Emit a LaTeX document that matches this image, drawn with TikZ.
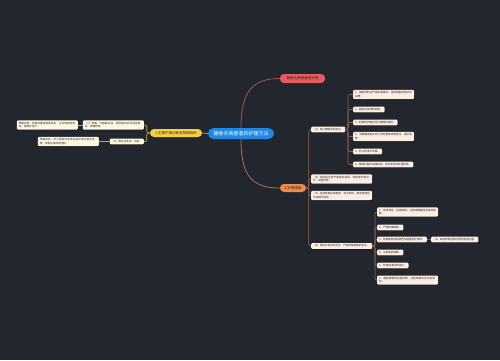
\documentclass[tikz,border=0pt]{standalone}
\usepackage{fontspec}
\setmainfont{Noto Sans CJK SC}
\XeTeXlinebreaklocale "zh"
\XeTeXlinebreakskip=0pt plus 0.5pt
\usetikzlibrary{shadows}
\definecolor{bgc}{HTML}{22262F}
\definecolor{blueC}{HTML}{1E88E5}
\definecolor{redN}{HTML}{E85A5C}
\definecolor{yellowN}{HTML}{F4D03F}
\definecolor{orangeN}{HTML}{EE8B48}
\definecolor{lcard}{HTML}{FFF8E1}
\definecolor{rcard}{HTML}{FDEEE4}
\definecolor{lline}{HTML}{C9A640}
\definecolor{rline}{HTML}{8C5F4E}
\definecolor{redline}{HTML}{A8505A}
\definecolor{orline}{HTML}{B5703F}
\tikzset{
  card/.style={fill=#1, rounded corners=1pt, inner xsep=2pt, inner ysep=1.6pt,
    font=\fontsize{2.6pt}{3.4pt}\selectfont, text=black!85, align=left,
    drop shadow={shadow xshift=0.4pt, shadow yshift=-0.5pt, opacity=0.6, fill=black}},
  wcard/.style={card=#1, text width=57pt},
  pill/.style={fill=#1, rounded corners=4pt, inner xsep=2pt, inner ysep=0pt,
    minimum height=8pt, font=\fontsize{3.5pt}{4pt}\selectfont, text=black!85},
  lconn/.style={draw=lline, line width=0.7pt, rounded corners=2pt},
  rconn/.style={draw=rline, line width=0.7pt, rounded corners=2pt},
}
\begin{document}
\begin{tikzpicture}[x=1pt, y=-1pt]
\fill[bgc] (0,0) rectangle (500,360);
\useasboundingbox (0,0) rectangle (500,360);

% main nodes
\node[fill=blueC, rounded corners=5.5pt, minimum width=66pt, minimum height=11pt, inner sep=0pt,
  font=\fontsize{5pt}{6pt}\selectfont, text=white] (central) at (241,133.5) {静脉炎病患者的护理方法};
\node[pill=redN, minimum width=45pt, minimum height=9pt] (red) at (302.5,78.5) {静脉炎病患者的护理};
\node[pill=orangeN, minimum width=26pt] (orange) at (293,188) {2.护理措施};
\node[pill=yellowN, minimum width=52pt] (yellow) at (176,133) {1.主要护理诊断及预期目标};

% left cards
\node[wcard=lcard, anchor=east] (a1) at (144,125) {（1）疼痛：与静脉炎症、局部组织炎性浸润有关，疼痛明显。};
\node[wcard=lcard, anchor=east] (b1) at (78,125) {预期目标：患者疼痛减轻或消失，主诉舒适度增加，能配合治疗。};
\node[card=lcard, anchor=east] (a2) at (144,141.5) {（2）潜在并发症：出血。};
\node[wcard=lcard, anchor=east] (b2) at (99,141.5) {预期目标：护士能及时发现出血并配合医生处理，患者出血得到控制。};

% right cards level 1
\node[card=rcard, anchor=west] (c1) at (311,129.5) {（1）减少静脉炎的发生。};
\node[wcard=rcard, anchor=west] (c2) at (311,179) {（2）协助医生给予患者抗感染、局部理疗等治疗，观察疗效。};
\node[wcard=rcard, anchor=west] (c3) at (311,195.5) {（3）指导患者抬高患肢，适当制动，避免患肢受压及剧烈活动。};
\node[wcard=rcard, anchor=west] (c4) at (311,246) {（4）预防并发症的发生，严密观察病情的变化。};

% children of c1
\node[wcard=rcard, anchor=west] (g1) at (353,94.5) {1、静脉穿刺应严格无菌操作，选择粗直弹性好的血管。};
\node[card=rcard, anchor=west] (g2) at (353,109.5) {2、避免反复穿刺血管。};
\node[card=rcard, anchor=west] (g3) at (353,122.5) {3、刺激性药物应充分稀释后使用。};
\node[wcard=rcard, anchor=west] (g4) at (353,136.5) {4、长期输液者应有计划地更换穿刺部位，保护血管。};
\node[card=rcard, anchor=west] (g5) at (353,151.5) {5、防止药液外渗漏。};
\node[card=rcard, anchor=west] (g6) at (353,164.5) {6、输液过程中加强巡视，及时发现并处理异常。};

% children of c4
\node[wcard=rcard, anchor=west] (h1) at (377,212) {1、卧床休息，抬高患肢，以促进静脉回流减轻肿胀。};
\node[card=rcard, anchor=west] (h2) at (377,227.5) {2、严禁按摩患肢。};
\node[card=rcard, anchor=west] (h3) at (377,239.5) {3、观察患肢皮肤颜色及温度变化情况。};
\node[card=rcard, anchor=west] (h3a) at (431,239.5) {（1）如有异常应及时报告医生处理。};
\node[card=rcard, anchor=west] (h4) at (377,252.5) {4、注意患肢保暖。};
\node[card=rcard, anchor=west] (h5) at (377,265.5) {5、饮食宜清淡易消化。};
\node[wcard=rcard, anchor=west] (h6) at (377,280) {6、遵医嘱使用抗凝药物，注意观察有无出血倾向。};

% connectors
\draw[lconn] (central.west) -- (yellow.east);
\draw[draw=redline, line width=0.8pt] (central.north) .. controls (241,92) and (252,78.5) .. (red.west);
\draw[draw=orline, line width=0.8pt] (central.south) .. controls (241,176) and (252,188) .. (orange.west);
\foreach \n in {a1,a2} \draw[lconn] (yellow.west) -- ++(-3,0) |- (\n.east);
\draw[lconn] (a1.west) -- (b1.east);
\draw[lconn] (a2.west) -- (b2.east);
\foreach \n in {c1,c2,c3,c4} \draw[rconn] (orange.east) -- ++(2.5,0) |- (\n.west);
\foreach \n in {g1,g2,g3,g4,g5,g6} \draw[rconn] (c1.east) -- ++(2.5,0) |- (\n.west);
\foreach \n in {h1,h2,h3,h4,h5,h6} \draw[rconn] (c4.east) -- ++(2.5,0) |- (\n.west);
\draw[rconn] (h3.east) -- (h3a.west);
\end{tikzpicture}
\end{document}
